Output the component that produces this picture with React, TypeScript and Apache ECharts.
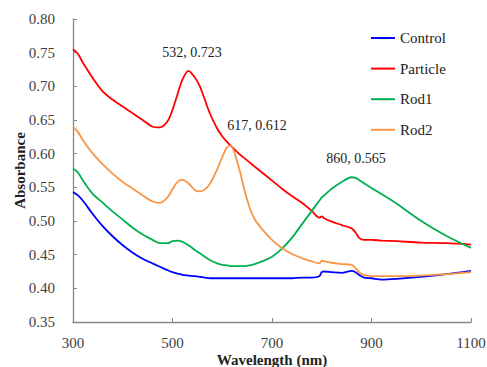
import React, { useEffect, useRef } from "react";
import * as echarts from "echarts";

const wavelengths = [300, 310, 320, 340, 360, 380, 400, 420, 440, 460, 475, 490, 500, 510, 520, 532, 545, 555, 565, 575, 590, 600, 610, 617, 625, 635, 645, 655, 665, 680, 700, 720, 740, 760, 780, 795, 800, 805, 820, 840, 860, 868, 875, 885, 900, 920, 950, 1000, 1050, 1100];

const control = [0.543, 0.538, 0.530, 0.510, 0.492, 0.477, 0.464, 0.453, 0.444, 0.437, 0.432, 0.427, 0.424, 0.422, 0.420, 0.419, 0.418, 0.417, 0.416, 0.415, 0.415, 0.415, 0.415, 0.415, 0.415, 0.415, 0.415, 0.415, 0.415, 0.415, 0.415, 0.415, 0.415, 0.416, 0.416, 0.418, 0.424, 0.425, 0.424, 0.423, 0.426, 0.424, 0.420, 0.416, 0.415, 0.413, 0.414, 0.417, 0.421, 0.426];

const particle = [0.755, 0.748, 0.735, 0.712, 0.692, 0.680, 0.670, 0.660, 0.650, 0.640, 0.639, 0.648, 0.665, 0.688, 0.710, 0.723, 0.713, 0.700, 0.680, 0.660, 0.637, 0.626, 0.617, 0.612, 0.606, 0.599, 0.593, 0.587, 0.581, 0.572, 0.560, 0.548, 0.537, 0.527, 0.515, 0.505, 0.507, 0.504, 0.499, 0.494, 0.489, 0.483, 0.475, 0.472, 0.472, 0.471, 0.470, 0.468, 0.467, 0.465];

const rod1 = [0.578, 0.572, 0.560, 0.540, 0.527, 0.514, 0.502, 0.490, 0.480, 0.472, 0.467, 0.467, 0.470, 0.471, 0.469, 0.464, 0.457, 0.452, 0.447, 0.442, 0.437, 0.435, 0.434, 0.433, 0.433, 0.433, 0.433, 0.434, 0.436, 0.440, 0.447, 0.459, 0.475, 0.495, 0.515, 0.530, 0.535, 0.538, 0.548, 0.558, 0.565, 0.564, 0.561, 0.556, 0.549, 0.540, 0.526, 0.500, 0.478, 0.460];

const rod2 = [0.640, 0.632, 0.620, 0.600, 0.584, 0.570, 0.558, 0.548, 0.538, 0.529, 0.527, 0.535, 0.547, 0.558, 0.561, 0.556, 0.546, 0.544, 0.547, 0.555, 0.577, 0.595, 0.610, 0.612, 0.600, 0.575, 0.545, 0.520, 0.503, 0.488, 0.472, 0.460, 0.451, 0.445, 0.440, 0.437, 0.441, 0.440, 0.438, 0.436, 0.435, 0.430, 0.424, 0.420, 0.418, 0.418, 0.418, 0.419, 0.421, 0.424];

const seriesNames = ["Control", "Particle", "Rod1", "Rod2"];
const seriesColors = ["#0000ff", "#ff0000", "#00b050", "#f79646"];
const peakLabels = ["532, 0.723", "617, 0.612", "860, 0.565"];
const yTicks = { min: 0.35, max: 0.8, interval: 0.05 };
const xTicks = { min: 300, max: 1100, interval: 200 };

const FONT = "Liberation Serif";

export default function App() {
  const ref = useRef<HTMLDivElement>(null);
  useEffect(() => {
    document.body.style.margin = "0";
    const chart = echarts.init(ref.current!, null, { renderer: "svg" });
    const allData = [control, particle, rod1, rod2];
    const series = allData.map((vals, i) => ({
      name: seriesNames[i],
      type: "line",
      data: wavelengths.map((w, j) => [w, vals[j]]),
      showSymbol: false,
      smooth: 0.3,
      lineStyle: { color: seriesColors[i], width: 1.8 },
      itemStyle: { color: seriesColors[i] },
    }));
    chart.setOption({
      animation: false,
      grid: { left: 73, right: 16, top: 19, bottom: 45, containLabel: false, outerBoundsMode: "none" },
      legend: {
        orient: "vertical",
        left: 366,
        top: 25,
        icon: "rect",
        itemWidth: 24,
        itemHeight: 2,
        itemGap: 14.6,
        data: seriesNames,
        textStyle: { fontFamily: FONT, fontSize: 15, color: "#222", lineHeight: 16 },
      },
      xAxis: {
        type: "value",
        min: xTicks.min,
        max: xTicks.max,
        interval: xTicks.interval,
        name: "Wavelength (nm)",
        nameLocation: "middle",
        nameGap: 30,
        nameMoveOverlap: false,
        nameTextStyle: { fontFamily: FONT, fontSize: 15, fontWeight: "bold", color: "#222", verticalAlign: "top" },
        axisLine: { lineStyle: { color: "#888", width: 1.3 } },
        axisTick: { inside: true, length: 4, lineStyle: { color: "#888" } },
        axisLabel: { fontFamily: FONT, fontSize: 15, color: "#404040", margin: 13, formatter: (v: number) => String(v) },
        splitLine: { show: false },
      },
      yAxis: {
        type: "value",
        min: yTicks.min,
        max: yTicks.max,
        interval: yTicks.interval,
        name: "Absorbance",
        nameLocation: "middle",
        nameGap: 46,
        nameMoveOverlap: false,
        nameTextStyle: { fontFamily: FONT, fontSize: 15, fontWeight: "bold", color: "#222" },
        axisLine: { show: true, lineStyle: { color: "#888", width: 1.3 } },
        axisTick: { show: true, inside: true, length: 4, lineStyle: { color: "#888" } },
        axisLabel: { fontFamily: FONT, fontSize: 15, color: "#404040", margin: 18, formatter: (v: number) => v.toFixed(2) },
        splitLine: { show: false },
      },
      graphic: [
        { type: "text", x: 192, y: 52, style: { text: peakLabels[0], fontFamily: FONT, fontSize: 14, fill: "#222", align: "center", verticalAlign: "middle" } },
        { type: "text", x: 257, y: 125, style: { text: peakLabels[1], fontFamily: FONT, fontSize: 14, fill: "#222", align: "center", verticalAlign: "middle" } },
        { type: "text", x: 356, y: 158, style: { text: peakLabels[2], fontFamily: FONT, fontSize: 14, fill: "#222", align: "center", verticalAlign: "middle" } },
      ],
      series,
    });
    return () => chart.dispose();
  }, []);
  return <div ref={ref} style={{ width: 487, height: 367 }} />;
}
